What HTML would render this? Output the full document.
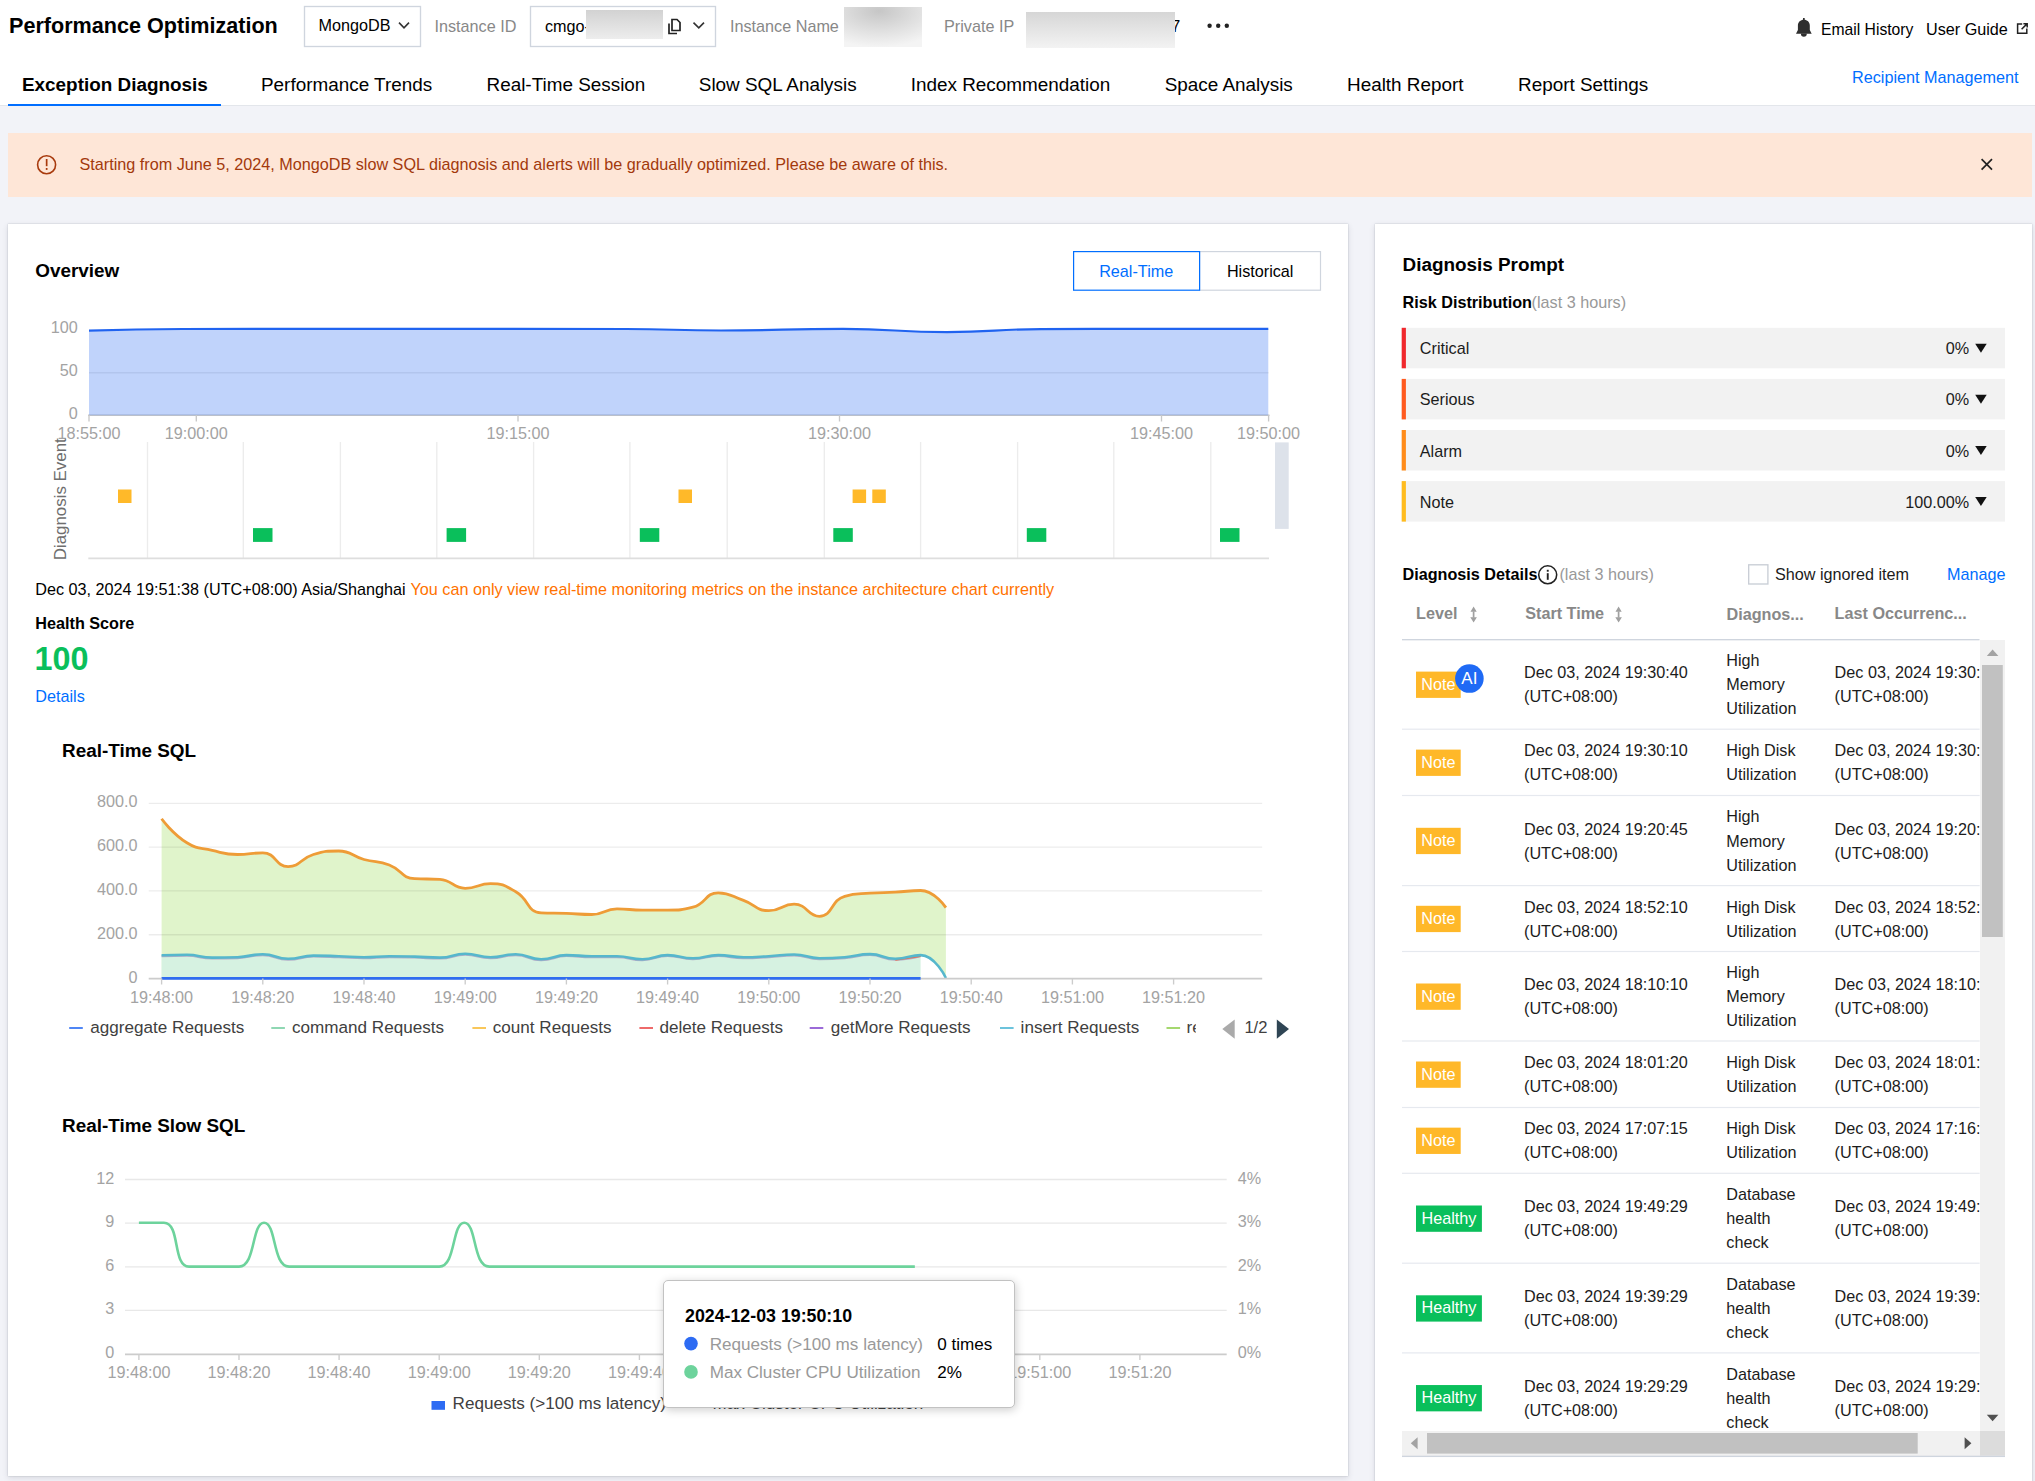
<!DOCTYPE html><html><head><meta charset="utf-8"><title>Performance Optimization</title><style>
*{margin:0;padding:0;box-sizing:border-box}
html,body{width:2035px;height:1481px;overflow:hidden;background:#f2f3f8;font-family:'Liberation Sans', Arial, sans-serif}
#hdr{position:absolute;left:0;top:0;width:2035px;height:106px;background:#fff;border-bottom:1px solid #e3e6eb}
#tabline{position:absolute;left:8px;top:103.6px;width:213px;height:2.6px;background:#006eff}
#alert{position:absolute;left:8px;top:133px;width:2024px;height:64px;background:#fee6d7}
.card{position:absolute;background:#fff;box-shadow:0 0 1.5px rgba(54,58,80,.28),0 2px 6px rgba(54,58,80,.14)}
#lc{left:8px;top:224px;width:1340px;height:1252px}
#rc{left:1375px;top:224px;width:657px;height:1300px}
#ov{position:absolute;left:0;top:0}
#tip{position:absolute;left:663px;top:1280px;width:352px;height:128px;background:#fff;border:1px solid #c2c2c2;border-radius:5px;box-shadow:1px 2px 10px rgba(0,0,0,.2)}
#tip svg{position:absolute;left:-664px;top:-1281px}
text{font-family:'Liberation Sans', Arial, sans-serif}
</style></head><body><div id="hdr"></div><div id="tabline"></div><div id="alert"></div><div class="card" id="lc"></div><div class="card" id="rc"></div><svg id="ov" width="2035" height="1481" viewBox="0 0 2035 1481"><text x="9" y="32.7" font-size="21.6" fill="#000" font-weight="bold">Performance Optimization</text><rect x="304.5" y="6.5" width="116" height="40" fill="#fff" stroke="#cfd5de" stroke-width="1.35"/><text x="318.5" y="31.3" font-size="16.2" fill="#000">MongoDB</text><path d="M399 22.6 L404 27.8 L409 22.6" fill="none" stroke="#333" stroke-width="1.6"/><text x="434.5" y="31.5" font-size="16.2" fill="#888">Instance ID</text><rect x="530.5" y="6.5" width="185" height="40" fill="#fff" stroke="#cfd5de" stroke-width="1.35"/><text x="545" y="31.5" font-size="16.2" fill="#000">cmgo-</text><defs><linearGradient id="gb1" x1="0" y1="0" x2="0" y2="1"><stop offset="0" stop-color="#d2d2d2"/><stop offset="1" stop-color="#ededed"/></linearGradient><radialGradient id="gb2" cx="0.45" cy="0.1" r="0.9"><stop offset="0" stop-color="#c6c6c6"/><stop offset="1" stop-color="#f4f4f4"/></radialGradient><linearGradient id="gb3" x1="0" y1="0" x2="0" y2="1"><stop offset="0" stop-color="#d6d6d6"/><stop offset="1" stop-color="#f3f3f3"/></linearGradient></defs><rect x="586" y="10" width="77" height="29" fill="url(#gb1)"/><path d="M672 19.5 h5 l3 3 v8 h-8 z" fill="none" stroke="#222" stroke-width="1.7"/><path d="M669 23.5 v10 h8" fill="none" stroke="#222" stroke-width="1.7"/><path d="M693.5 22.6 L698.8 27.9 L704 22.6" fill="none" stroke="#333" stroke-width="1.6"/><text x="730" y="31.5" font-size="16.2" fill="#888">Instance Name</text><rect x="844" y="7" width="78" height="40" fill="url(#gb2)"/><text x="944" y="31.5" font-size="16.2" fill="#888">Private IP</text><text x="1171.3" y="31.5" font-size="16.2" fill="#000">7</text><rect x="1026" y="12" width="149" height="36" fill="url(#gb3)"/><circle cx="1209.6" cy="25.8" r="2.2" fill="#222"/><circle cx="1218.2" cy="25.8" r="2.2" fill="#222"/><circle cx="1226.8" cy="25.8" r="2.2" fill="#222"/><rect x="1803" y="18" width="1.7" height="2.6" fill="#2f2f2f"/><path d="M1797.9 30 V25.6 C1797.9 22.1 1800.5 19.8 1803.85 19.8 C1807.2 19.8 1809.8 22.1 1809.8 25.6 V30 L1811.7 33.7 H1796 Z" fill="#2f2f2f"/><path d="M1800.9 33.5 A2.95 3.2 0 0 0 1806.8 33.5 Z" fill="#2f2f2f"/><text x="1821" y="34.5" font-size="15.7" fill="#000">Email History</text><text x="1926" y="34.5" font-size="16.2" fill="#000">User Guide</text><path d="M2022.2 24 H2017.6 V33.2 H2026.8 V28.6" fill="none" stroke="#222" stroke-width="1.5"/><path d="M2021.6 29.2 L2027.2 23.6 M2023.4 23.8 H2027.2 V27.6" fill="none" stroke="#222" stroke-width="1.5"/><text x="22" y="91" font-size="18.9" fill="#000" font-weight="bold">Exception Diagnosis</text><text x="261" y="91" font-size="18.9" fill="#000">Performance Trends</text><text x="486.5" y="91" font-size="18.9" fill="#000">Real-Time Session</text><text x="698.8" y="91" font-size="18.9" fill="#000">Slow SQL Analysis</text><text x="910.7" y="91" font-size="18.9" fill="#000">Index Recommendation</text><text x="1164.7" y="91" font-size="18.9" fill="#000">Space Analysis</text><text x="1347" y="91" font-size="18.9" fill="#000">Health Report</text><text x="1518" y="91" font-size="18.9" fill="#000">Report Settings</text><text x="1852" y="83" font-size="16.2" fill="#006eff">Recipient Management</text><circle cx="46.6" cy="164.8" r="9" fill="none" stroke="#a83a0d" stroke-width="1.6"/><rect x="45.8" y="159" width="1.7" height="7.2" fill="#a83a0d"/><rect x="45.8" y="168" width="1.7" height="1.9" fill="#a83a0d"/><text x="79.5" y="170.1" font-size="16.2" fill="#a3390c">Starting from June 5, 2024, MongoDB slow SQL diagnosis and alerts will be gradually optimized. Please be aware of this.</text><path d="M1981.6 159.2 L1992 169.6 M1992 159.2 L1981.6 169.6" stroke="#222" stroke-width="1.7"/><text x="35.3" y="276.9" font-size="18.9" fill="#000" font-weight="bold">Overview</text><rect x="1199.6" y="251.6" width="120.9" height="38.6" fill="#fff" stroke="#cfd5de" stroke-width="1.2"/><rect x="1073.6" y="251.6" width="126" height="38.6" fill="#fff" stroke="#006eff" stroke-width="1.2"/><text x="1136.2" y="276.9" font-size="16.2" fill="#006eff" text-anchor="middle">Real-Time</text><text x="1260.2" y="276.9" font-size="16.2" fill="#000" text-anchor="middle">Historical</text><line x1="89" y1="372.7" x2="1268.5" y2="372.7" stroke="#ececec" stroke-width="1.35"/><line x1="88" y1="415.2" x2="1269.5" y2="415.2" stroke="#c8c8c8" stroke-width="1.6"/><path d="M89.00,330.60 C89.00,330.60 136.00,329.04 183.00,329.00 C291.50,328.90 291.50,328.90 400.00,328.90 C513.00,328.90 513.00,328.90 626.00,329.00 C673.50,329.04 673.50,330.50 721.00,330.50 C782.00,330.50 782.01,328.90 843.00,328.90 C895.01,328.90 895.00,332.10 947.00,332.10 C994.00,332.10 993.99,329.27 1041.00,329.10 C1095.49,328.90 1095.50,328.90 1150.00,328.90 C1209.15,328.90 1268.30,328.90 1268.30,328.90 L1268.30,415.2 L89.00,415.2 Z" fill="rgba(34,102,240,0.285)" stroke="none"/><path d="M89.00,330.60 C89.00,330.60 136.00,329.04 183.00,329.00 C291.50,328.90 291.50,328.90 400.00,328.90 C513.00,328.90 513.00,328.90 626.00,329.00 C673.50,329.04 673.50,330.50 721.00,330.50 C782.00,330.50 782.01,328.90 843.00,328.90 C895.01,328.90 895.00,332.10 947.00,332.10 C994.00,332.10 993.99,329.27 1041.00,329.10 C1095.49,328.90 1095.50,328.90 1150.00,328.90 C1209.15,328.90 1268.30,328.90 1268.30,328.90" fill="none" stroke="#2063f0" stroke-width="2.2"/><line x1="89" y1="415" x2="89" y2="421.5" stroke="#c8c8c8" stroke-width="1.35"/><line x1="196.3" y1="415" x2="196.3" y2="421.5" stroke="#c8c8c8" stroke-width="1.35"/><line x1="518" y1="415" x2="518" y2="421.5" stroke="#c8c8c8" stroke-width="1.35"/><line x1="839.5" y1="415" x2="839.5" y2="421.5" stroke="#c8c8c8" stroke-width="1.35"/><line x1="1161.5" y1="415" x2="1161.5" y2="421.5" stroke="#c8c8c8" stroke-width="1.35"/><line x1="1268.6" y1="415" x2="1268.6" y2="421.5" stroke="#c8c8c8" stroke-width="1.35"/><text x="77.8" y="332.7" font-size="16.2" fill="#a3a3a3" text-anchor="end">100</text><text x="77.8" y="375.9" font-size="16.2" fill="#a3a3a3" text-anchor="end">50</text><text x="77.8" y="419.4" font-size="16.2" fill="#a3a3a3" text-anchor="end">0</text><text x="89" y="438.7" font-size="16.2" fill="#a3a3a3" text-anchor="middle">18:55:00</text><text x="196.3" y="438.7" font-size="16.2" fill="#a3a3a3" text-anchor="middle">19:00:00</text><text x="518" y="438.7" font-size="16.2" fill="#a3a3a3" text-anchor="middle">19:15:00</text><text x="839.5" y="438.7" font-size="16.2" fill="#a3a3a3" text-anchor="middle">19:30:00</text><text x="1161.5" y="438.7" font-size="16.2" fill="#a3a3a3" text-anchor="middle">19:45:00</text><text x="1268.6" y="438.7" font-size="16.2" fill="#a3a3a3" text-anchor="middle">19:50:00</text><line x1="147.5" y1="442" x2="147.5" y2="558" stroke="#ececec" stroke-width="1.35"/><line x1="243.3" y1="442" x2="243.3" y2="558" stroke="#ececec" stroke-width="1.35"/><line x1="340.4" y1="442" x2="340.4" y2="558" stroke="#ececec" stroke-width="1.35"/><line x1="436.8" y1="442" x2="436.8" y2="558" stroke="#ececec" stroke-width="1.35"/><line x1="533.6" y1="442" x2="533.6" y2="558" stroke="#ececec" stroke-width="1.35"/><line x1="629.9" y1="442" x2="629.9" y2="558" stroke="#ececec" stroke-width="1.35"/><line x1="727.2" y1="442" x2="727.2" y2="558" stroke="#ececec" stroke-width="1.35"/><line x1="824.3" y1="442" x2="824.3" y2="558" stroke="#ececec" stroke-width="1.35"/><line x1="920.6" y1="442" x2="920.6" y2="558" stroke="#ececec" stroke-width="1.35"/><line x1="1017.6" y1="442" x2="1017.6" y2="558" stroke="#ececec" stroke-width="1.35"/><line x1="1113.8" y1="442" x2="1113.8" y2="558" stroke="#ececec" stroke-width="1.35"/><line x1="1210.8" y1="442" x2="1210.8" y2="558" stroke="#ececec" stroke-width="1.35"/><line x1="88.3" y1="558.3" x2="1269" y2="558.3" stroke="#dedede" stroke-width="1.8"/><rect x="118" y="489.5" width="13.5" height="13.5" fill="#ffb929"/><rect x="678.5" y="489.5" width="13.5" height="13.5" fill="#ffb929"/><rect x="852.6" y="489.5" width="13.5" height="13.5" fill="#ffb929"/><rect x="872.3" y="489.5" width="13.5" height="13.5" fill="#ffb929"/><rect x="253" y="528.1" width="19.5" height="13.8" fill="#0abf5b"/><rect x="446.6" y="528.1" width="19.5" height="13.8" fill="#0abf5b"/><rect x="639.8" y="528.1" width="19.5" height="13.8" fill="#0abf5b"/><rect x="833.3" y="528.1" width="19.5" height="13.8" fill="#0abf5b"/><rect x="1026.8" y="528.1" width="19.5" height="13.8" fill="#0abf5b"/><rect x="1220" y="528.1" width="19.5" height="13.8" fill="#0abf5b"/><rect x="1275" y="442.4" width="13.7" height="86.5" fill="#dde2ea"/><text transform="translate(65.6,560.3) rotate(-90)" font-size="16.9" fill="#6e6e6e">Diagnosis Event</text><text x="35.3" y="595.4" font-size="16.2" fill="#000">Dec 03, 2024 19:51:38 (UTC+08:00) Asia/Shanghai</text><text x="410.5" y="595.4" font-size="16.2" fill="#ff7200">You can only view real-time monitoring metrics on the instance architecture chart currently</text><text x="35.3" y="628.7" font-size="16.2" fill="#000" font-weight="bold">Health Score</text><text x="34.6" y="670" font-size="32.4" fill="#0abf5b" font-weight="bold">100</text><text x="35.3" y="702.3" font-size="16.2" fill="#006eff">Details</text><text x="62" y="756.7" font-size="18.9" fill="#000" font-weight="bold">Real-Time SQL</text><text x="137.4" y="807.3" font-size="16.2" fill="#a3a3a3" text-anchor="end">800.0</text><text x="137.4" y="851.1" font-size="16.2" fill="#a3a3a3" text-anchor="end">600.0</text><text x="137.4" y="894.9" font-size="16.2" fill="#a3a3a3" text-anchor="end">400.0</text><text x="137.4" y="938.7" font-size="16.2" fill="#a3a3a3" text-anchor="end">200.0</text><text x="137.4" y="982.5" font-size="16.2" fill="#a3a3a3" text-anchor="end">0</text><path d="M161.60,818.80 C161.60,818.80 172.50,833.81 186.90,842.80 C197.80,849.61 199.36,847.43 212.20,850.40 C224.66,853.28 224.78,854.50 237.50,854.50 C250.08,854.50 250.96,852.80 262.80,852.80 C276.26,852.80 275.28,866.60 288.10,866.60 C300.58,866.60 300.16,858.34 313.40,854.50 C325.46,851.00 326.33,851.00 338.70,851.00 C351.63,851.00 351.16,855.95 364.00,859.50 C376.46,862.95 377.32,860.45 389.30,865.00 C402.62,870.05 401.14,878.02 414.60,878.70 C426.44,879.30 427.62,878.70 439.90,879.30 C452.92,879.94 452.28,888.30 465.20,888.30 C477.58,888.30 478.06,883.70 490.50,883.70 C503.36,883.70 504.51,885.28 515.80,891.80 C529.81,899.88 526.79,912.25 541.10,912.90 C552.09,913.40 553.75,913.00 566.40,913.40 C579.05,913.80 579.20,914.50 591.70,914.50 C604.50,914.50 604.21,908.90 617.00,908.90 C629.51,908.90 629.64,910.10 642.30,910.10 C654.94,910.10 654.99,910.10 667.60,910.10 C680.29,910.10 681.09,910.10 692.90,907.20 C706.39,903.88 704.94,892.80 718.20,892.80 C730.24,892.80 731.06,896.00 743.50,900.40 C756.36,904.95 755.87,910.70 768.80,910.70 C781.17,910.70 781.90,904.10 794.10,904.10 C807.20,904.10 807.62,916.30 819.40,916.30 C832.92,916.30 830.57,900.22 844.70,896.30 C855.87,893.20 857.31,894.21 870.00,893.20 C882.61,892.20 882.66,892.87 895.30,892.20 C907.96,891.52 909.12,890.50 920.60,890.50 C934.42,890.50 945.90,907.60 945.90,907.60 L945.90,978.3 L161.60,978.3 Z" fill="#e0f4cb" stroke="none"/><path d="M161.60,955.20 C161.60,955.20 174.29,954.80 186.90,954.80 C199.59,954.80 199.51,957.60 212.20,957.60 C224.81,957.60 224.89,957.60 237.50,957.20 C250.19,956.80 250.21,954.20 262.80,954.20 C275.51,954.20 275.40,958.80 288.10,958.80 C300.70,958.80 300.70,955.60 313.40,955.60 C326.00,955.60 326.05,955.80 338.70,956.20 C351.35,956.60 351.35,957.20 364.00,957.20 C376.65,957.20 376.65,956.20 389.30,956.20 C401.95,956.20 401.95,956.25 414.60,956.60 C427.25,956.95 427.32,957.60 439.90,957.60 C452.62,957.60 452.54,953.80 465.20,953.80 C477.84,953.80 477.84,957.20 490.50,957.20 C503.14,957.20 503.23,954.20 515.80,954.20 C528.53,954.20 528.41,959.30 541.10,959.30 C553.71,959.30 553.67,955.10 566.40,955.10 C578.97,955.10 579.04,956.20 591.70,956.20 C604.34,956.20 604.39,956.20 617.00,956.20 C629.69,956.20 629.69,959.20 642.30,959.20 C654.99,959.20 654.92,955.10 667.60,955.10 C680.22,955.10 680.25,958.20 692.90,958.20 C705.55,958.20 705.52,955.10 718.20,955.10 C730.82,955.10 730.83,957.20 743.50,957.20 C756.13,957.20 756.16,956.87 768.80,956.20 C781.46,955.52 781.50,954.50 794.10,954.50 C806.80,954.50 806.69,958.20 819.40,958.20 C831.99,958.20 832.09,958.20 844.70,957.20 C857.39,956.19 857.41,954.10 870.00,954.10 C882.71,954.10 882.61,958.80 895.30,958.80 C907.91,958.80 909.76,955.10 920.60,955.10 C935.06,955.10 945.90,978.00 945.90,978.00 L945.90,978.3 L161.60,978.3 Z" fill="#ffffff" stroke="none"/><path d="M161.60,955.20 C161.60,955.20 174.29,954.80 186.90,954.80 C199.59,954.80 199.51,957.60 212.20,957.60 C224.81,957.60 224.89,957.60 237.50,957.20 C250.19,956.80 250.21,954.20 262.80,954.20 C275.51,954.20 275.40,958.80 288.10,958.80 C300.70,958.80 300.70,955.60 313.40,955.60 C326.00,955.60 326.05,955.80 338.70,956.20 C351.35,956.60 351.35,957.20 364.00,957.20 C376.65,957.20 376.65,956.20 389.30,956.20 C401.95,956.20 401.95,956.25 414.60,956.60 C427.25,956.95 427.32,957.60 439.90,957.60 C452.62,957.60 452.54,953.80 465.20,953.80 C477.84,953.80 477.84,957.20 490.50,957.20 C503.14,957.20 503.23,954.20 515.80,954.20 C528.53,954.20 528.41,959.30 541.10,959.30 C553.71,959.30 553.67,955.10 566.40,955.10 C578.97,955.10 579.04,956.20 591.70,956.20 C604.34,956.20 604.39,956.20 617.00,956.20 C629.69,956.20 629.69,959.20 642.30,959.20 C654.99,959.20 654.92,955.10 667.60,955.10 C680.22,955.10 680.25,958.20 692.90,958.20 C705.55,958.20 705.52,955.10 718.20,955.10 C730.82,955.10 730.83,957.20 743.50,957.20 C756.13,957.20 756.16,956.87 768.80,956.20 C781.46,955.52 781.50,954.50 794.10,954.50 C806.80,954.50 806.69,958.20 819.40,958.20 C831.99,958.20 832.09,958.20 844.70,957.20 C857.39,956.19 857.41,954.10 870.00,954.10 C882.71,954.10 882.61,958.80 895.30,958.80 C907.91,958.80 920.60,955.10 920.60,955.10 L920.60,978.3 L161.60,978.3 Z" fill="#d6f2e1" stroke="none"/><line x1="148.7" y1="803.3" x2="1262.2" y2="803.3" stroke="rgba(0,0,0,0.075)" stroke-width="1.35"/><line x1="148.7" y1="847.1" x2="1262.2" y2="847.1" stroke="rgba(0,0,0,0.075)" stroke-width="1.35"/><line x1="148.7" y1="890.9" x2="1262.2" y2="890.9" stroke="rgba(0,0,0,0.075)" stroke-width="1.35"/><line x1="148.7" y1="934.7" x2="1262.2" y2="934.7" stroke="rgba(0,0,0,0.075)" stroke-width="1.35"/><path d="M161.60,956.10 C161.60,956.10 174.29,955.70 186.90,955.70 C199.59,955.70 199.51,958.50 212.20,958.50 C224.81,958.50 224.89,958.50 237.50,958.10 C250.19,957.70 250.21,955.10 262.80,955.10 C275.51,955.10 275.40,959.70 288.10,959.70 C300.70,959.70 300.70,956.50 313.40,956.50 C326.00,956.50 326.05,956.70 338.70,957.10 C351.35,957.50 351.35,958.10 364.00,958.10 C376.65,958.10 376.65,957.10 389.30,957.10 C401.95,957.10 401.95,957.15 414.60,957.50 C427.25,957.85 427.32,958.50 439.90,958.50 C452.62,958.50 452.54,954.70 465.20,954.70 C477.84,954.70 477.84,958.10 490.50,958.10 C503.14,958.10 503.23,955.10 515.80,955.10 C528.53,955.10 528.41,960.20 541.10,960.20 C553.71,960.20 553.67,956.00 566.40,956.00 C578.97,956.00 579.04,957.10 591.70,957.10 C604.34,957.10 604.39,957.10 617.00,957.10 C629.69,957.10 629.69,960.10 642.30,960.10 C654.99,960.10 654.92,956.00 667.60,956.00 C680.22,956.00 680.25,959.10 692.90,959.10 C705.55,959.10 705.52,956.00 718.20,956.00 C730.82,956.00 730.83,958.10 743.50,958.10 C756.13,958.10 756.16,957.77 768.80,957.10 C781.46,956.42 781.50,955.40 794.10,955.40 C806.80,955.40 806.69,959.10 819.40,959.10 C831.99,959.10 832.09,959.10 844.70,958.10 C857.39,957.09 857.41,955.00 870.00,955.00 C882.71,955.00 882.61,959.70 895.30,959.70 C907.91,959.70 920.60,956.00 920.60,956.00" fill="none" stroke="#9a7fb8" stroke-width="2.2" stroke-linejoin="round" opacity="0.6"/><path d="M895.30,959.80 C895.30,959.80 920.60,956.10 920.60,956.10" fill="none" stroke="#ee6a4a" stroke-width="2" stroke-linejoin="round"/><path d="M161.60,955.20 C161.60,955.20 174.29,954.80 186.90,954.80 C199.59,954.80 199.51,957.60 212.20,957.60 C224.81,957.60 224.89,957.60 237.50,957.20 C250.19,956.80 250.21,954.20 262.80,954.20 C275.51,954.20 275.40,958.80 288.10,958.80 C300.70,958.80 300.70,955.60 313.40,955.60 C326.00,955.60 326.05,955.80 338.70,956.20 C351.35,956.60 351.35,957.20 364.00,957.20 C376.65,957.20 376.65,956.20 389.30,956.20 C401.95,956.20 401.95,956.25 414.60,956.60 C427.25,956.95 427.32,957.60 439.90,957.60 C452.62,957.60 452.54,953.80 465.20,953.80 C477.84,953.80 477.84,957.20 490.50,957.20 C503.14,957.20 503.23,954.20 515.80,954.20 C528.53,954.20 528.41,959.30 541.10,959.30 C553.71,959.30 553.67,955.10 566.40,955.10 C578.97,955.10 579.04,956.20 591.70,956.20 C604.34,956.20 604.39,956.20 617.00,956.20 C629.69,956.20 629.69,959.20 642.30,959.20 C654.99,959.20 654.92,955.10 667.60,955.10 C680.22,955.10 680.25,958.20 692.90,958.20 C705.55,958.20 705.52,955.10 718.20,955.10 C730.82,955.10 730.83,957.20 743.50,957.20 C756.13,957.20 756.16,956.87 768.80,956.20 C781.46,955.52 781.50,954.50 794.10,954.50 C806.80,954.50 806.69,958.20 819.40,958.20 C831.99,958.20 832.09,958.20 844.70,957.20 C857.39,956.19 857.41,954.10 870.00,954.10 C882.71,954.10 882.61,958.80 895.30,958.80 C907.91,958.80 909.76,955.10 920.60,955.10 C935.06,955.10 945.90,978.00 945.90,978.00" fill="none" stroke="#56b7cc" stroke-width="2.6" stroke-linejoin="round"/><path d="M161.60,818.80 C161.60,818.80 172.50,833.81 186.90,842.80 C197.80,849.61 199.36,847.43 212.20,850.40 C224.66,853.28 224.78,854.50 237.50,854.50 C250.08,854.50 250.96,852.80 262.80,852.80 C276.26,852.80 275.28,866.60 288.10,866.60 C300.58,866.60 300.16,858.34 313.40,854.50 C325.46,851.00 326.33,851.00 338.70,851.00 C351.63,851.00 351.16,855.95 364.00,859.50 C376.46,862.95 377.32,860.45 389.30,865.00 C402.62,870.05 401.14,878.02 414.60,878.70 C426.44,879.30 427.62,878.70 439.90,879.30 C452.92,879.94 452.28,888.30 465.20,888.30 C477.58,888.30 478.06,883.70 490.50,883.70 C503.36,883.70 504.51,885.28 515.80,891.80 C529.81,899.88 526.79,912.25 541.10,912.90 C552.09,913.40 553.75,913.00 566.40,913.40 C579.05,913.80 579.20,914.50 591.70,914.50 C604.50,914.50 604.21,908.90 617.00,908.90 C629.51,908.90 629.64,910.10 642.30,910.10 C654.94,910.10 654.99,910.10 667.60,910.10 C680.29,910.10 681.09,910.10 692.90,907.20 C706.39,903.88 704.94,892.80 718.20,892.80 C730.24,892.80 731.06,896.00 743.50,900.40 C756.36,904.95 755.87,910.70 768.80,910.70 C781.17,910.70 781.90,904.10 794.10,904.10 C807.20,904.10 807.62,916.30 819.40,916.30 C832.92,916.30 830.57,900.22 844.70,896.30 C855.87,893.20 857.31,894.21 870.00,893.20 C882.61,892.20 882.66,892.87 895.30,892.20 C907.96,891.52 909.12,890.50 920.60,890.50 C934.42,890.50 945.90,907.60 945.90,907.60" fill="none" stroke="#ee9c37" stroke-width="2.8" stroke-linejoin="round"/><line x1="148.7" y1="978.6" x2="1262.2" y2="978.6" stroke="#cccccc" stroke-width="1.8"/><line x1="161.6" y1="978.3" x2="920.6" y2="978.3" stroke="#2f6df0" stroke-width="2.8"/><line x1="161.6" y1="978.5" x2="161.6" y2="984.5" stroke="#cccccc" stroke-width="1.35"/><text x="161.6" y="1002.6" font-size="16.2" fill="#a3a3a3" text-anchor="middle">19:48:00</text><line x1="262.8" y1="978.5" x2="262.8" y2="984.5" stroke="#cccccc" stroke-width="1.35"/><text x="262.8" y="1002.6" font-size="16.2" fill="#a3a3a3" text-anchor="middle">19:48:20</text><line x1="364.0" y1="978.5" x2="364.0" y2="984.5" stroke="#cccccc" stroke-width="1.35"/><text x="364" y="1002.6" font-size="16.2" fill="#a3a3a3" text-anchor="middle">19:48:40</text><line x1="465.2" y1="978.5" x2="465.2" y2="984.5" stroke="#cccccc" stroke-width="1.35"/><text x="465.2" y="1002.6" font-size="16.2" fill="#a3a3a3" text-anchor="middle">19:49:00</text><line x1="566.4" y1="978.5" x2="566.4" y2="984.5" stroke="#cccccc" stroke-width="1.35"/><text x="566.4" y="1002.6" font-size="16.2" fill="#a3a3a3" text-anchor="middle">19:49:20</text><line x1="667.6" y1="978.5" x2="667.6" y2="984.5" stroke="#cccccc" stroke-width="1.35"/><text x="667.6" y="1002.6" font-size="16.2" fill="#a3a3a3" text-anchor="middle">19:49:40</text><line x1="768.8" y1="978.5" x2="768.8" y2="984.5" stroke="#cccccc" stroke-width="1.35"/><text x="768.8" y="1002.6" font-size="16.2" fill="#a3a3a3" text-anchor="middle">19:50:00</text><line x1="870.0" y1="978.5" x2="870.0" y2="984.5" stroke="#cccccc" stroke-width="1.35"/><text x="870" y="1002.6" font-size="16.2" fill="#a3a3a3" text-anchor="middle">19:50:20</text><line x1="971.2" y1="978.5" x2="971.2" y2="984.5" stroke="#cccccc" stroke-width="1.35"/><text x="971.2" y="1002.6" font-size="16.2" fill="#a3a3a3" text-anchor="middle">19:50:40</text><line x1="1072.4" y1="978.5" x2="1072.4" y2="984.5" stroke="#cccccc" stroke-width="1.35"/><text x="1072.4" y="1002.6" font-size="16.2" fill="#a3a3a3" text-anchor="middle">19:51:00</text><line x1="1173.6" y1="978.5" x2="1173.6" y2="984.5" stroke="#cccccc" stroke-width="1.35"/><text x="1173.6" y="1002.6" font-size="16.2" fill="#a3a3a3" text-anchor="middle">19:51:20</text><defs><clipPath id="lgc"><rect x="0" y="1000" width="1195.8" height="60"/></clipPath></defs><g clip-path="url(#lgc)"><rect x="69.2" y="1027" width="13.6" height="2" fill="#4f86f5"/><text x="90.3" y="1033.4" font-size="17.1" fill="#404040">aggregate Requests</text><rect x="271.3" y="1027" width="13.6" height="2" fill="#8fd7b3"/><text x="292" y="1033.4" font-size="17.1" fill="#404040">command Requests</text><rect x="472.4" y="1027" width="13.6" height="2" fill="#f9c75a"/><text x="492.8" y="1033.4" font-size="17.1" fill="#404040">count Requests</text><rect x="639.4" y="1027" width="13.6" height="2" fill="#ee6a6a"/><text x="659.5" y="1033.4" font-size="17.1" fill="#404040">delete Requests</text><rect x="809.7" y="1027" width="13.6" height="2" fill="#9b6ad8"/><text x="830.8" y="1033.4" font-size="17.1" fill="#404040">getMore Requests</text><rect x="1000" y="1027" width="13.6" height="2" fill="#6cc3dc"/><text x="1020.6" y="1033.4" font-size="17.1" fill="#404040">insert Requests</text><rect x="1166.5" y="1027" width="13.6" height="2" fill="#a5d86f"/><text x="1186.6" y="1033.4" font-size="17.1" fill="#404040">remove Requests</text></g><path d="M1234.7 1019.4 L1222.3 1029 L1234.7 1038.8 Z" fill="#aaaaaa"/><text x="1244.4" y="1033.4" font-size="16.6" fill="#404040">1/2</text><path d="M1276.8 1019.4 L1289 1029 L1276.8 1038.8 Z" fill="#2f4554"/><text x="62" y="1132.1" font-size="18.9" fill="#000" font-weight="bold">Real-Time Slow SQL</text><line x1="125" y1="1179.5" x2="1226.7" y2="1179.5" stroke="#e8e8e8" stroke-width="1.35"/><line x1="125" y1="1223.1" x2="1226.7" y2="1223.1" stroke="#e8e8e8" stroke-width="1.35"/><line x1="125" y1="1266.8" x2="1226.7" y2="1266.8" stroke="#e8e8e8" stroke-width="1.35"/><line x1="125" y1="1310.4" x2="1226.7" y2="1310.4" stroke="#e8e8e8" stroke-width="1.35"/><text x="114.2" y="1183.5" font-size="16.2" fill="#a3a3a3" text-anchor="end">12</text><text x="1237.8" y="1183.5" font-size="16.2" fill="#a3a3a3">4%</text><text x="114.2" y="1227.1" font-size="16.2" fill="#a3a3a3" text-anchor="end">9</text><text x="1237.8" y="1227.1" font-size="16.2" fill="#a3a3a3">3%</text><text x="114.2" y="1270.8" font-size="16.2" fill="#a3a3a3" text-anchor="end">6</text><text x="1237.8" y="1270.8" font-size="16.2" fill="#a3a3a3">2%</text><text x="114.2" y="1314.4" font-size="16.2" fill="#a3a3a3" text-anchor="end">3</text><text x="1237.8" y="1314.4" font-size="16.2" fill="#a3a3a3">1%</text><text x="114.2" y="1358" font-size="16.2" fill="#a3a3a3" text-anchor="end">0</text><text x="1237.8" y="1358" font-size="16.2" fill="#a3a3a3">0%</text><line x1="125" y1="1354.3" x2="1226.7" y2="1354.3" stroke="#cccccc" stroke-width="1.8"/><path d="M138.90,1222.80 C138.90,1222.80 155.63,1222.80 163.93,1222.80 C180.66,1222.80 172.23,1266.60 188.96,1266.60 C197.26,1266.60 201.48,1266.60 213.99,1266.60 C226.50,1266.60 230.72,1266.60 239.02,1266.60 C255.75,1266.60 251.54,1222.80 264.05,1222.80 C276.56,1222.80 272.35,1266.60 289.08,1266.60 C297.38,1266.60 301.60,1266.60 314.11,1266.60 C326.62,1266.60 326.62,1266.60 339.14,1266.60 C351.65,1266.60 351.65,1266.60 364.17,1266.60 C376.69,1266.60 376.69,1266.60 389.20,1266.60 C401.72,1266.60 401.72,1266.60 414.23,1266.60 C426.75,1266.60 430.96,1266.60 439.26,1266.60 C455.99,1266.60 451.77,1222.80 464.29,1222.80 C476.81,1222.80 472.59,1266.60 489.32,1266.60 C497.62,1266.60 501.84,1266.60 514.35,1266.60 C526.87,1266.60 526.87,1266.60 539.38,1266.60 C551.89,1266.60 551.89,1266.60 564.41,1266.60 C576.92,1266.60 576.92,1266.60 589.44,1266.60 C601.96,1266.60 601.96,1266.60 614.47,1266.60 C626.99,1266.60 626.99,1266.60 639.50,1266.60 C652.01,1266.60 652.01,1266.60 664.53,1266.60 C677.05,1266.60 677.05,1266.60 689.56,1266.60 C702.08,1266.60 702.08,1266.60 714.59,1266.60 C727.11,1266.60 727.11,1266.60 739.62,1266.60 C752.13,1266.60 752.13,1266.60 764.65,1266.60 C777.16,1266.60 777.16,1266.60 789.68,1266.60 C802.19,1266.60 802.19,1266.60 814.71,1266.60 C827.23,1266.60 827.23,1266.60 839.74,1266.60 C852.25,1266.60 852.25,1266.60 864.77,1266.60 C877.29,1266.60 877.29,1266.60 889.80,1266.60 C902.32,1266.60 914.83,1266.60 914.83,1266.60" fill="none" stroke="#6dd39c" stroke-width="2.6" stroke-linejoin="round"/><line x1="138.9" y1="1354" x2="138.9" y2="1360" stroke="#cccccc" stroke-width="1.35"/><text x="138.9" y="1378.3" font-size="16.2" fill="#a3a3a3" text-anchor="middle">19:48:00</text><line x1="239.0" y1="1354" x2="239.0" y2="1360" stroke="#cccccc" stroke-width="1.35"/><text x="239" y="1378.3" font-size="16.2" fill="#a3a3a3" text-anchor="middle">19:48:20</text><line x1="339.1" y1="1354" x2="339.1" y2="1360" stroke="#cccccc" stroke-width="1.35"/><text x="339.1" y="1378.3" font-size="16.2" fill="#a3a3a3" text-anchor="middle">19:48:40</text><line x1="439.2" y1="1354" x2="439.2" y2="1360" stroke="#cccccc" stroke-width="1.35"/><text x="439.2" y="1378.3" font-size="16.2" fill="#a3a3a3" text-anchor="middle">19:49:00</text><line x1="539.3" y1="1354" x2="539.3" y2="1360" stroke="#cccccc" stroke-width="1.35"/><text x="539.3" y="1378.3" font-size="16.2" fill="#a3a3a3" text-anchor="middle">19:49:20</text><line x1="639.4" y1="1354" x2="639.4" y2="1360" stroke="#cccccc" stroke-width="1.35"/><text x="639.4" y="1378.3" font-size="16.2" fill="#a3a3a3" text-anchor="middle">19:49:40</text><line x1="739.5" y1="1354" x2="739.5" y2="1360" stroke="#cccccc" stroke-width="1.35"/><text x="739.5" y="1378.3" font-size="16.2" fill="#a3a3a3" text-anchor="middle">19:50:00</text><line x1="839.6" y1="1354" x2="839.6" y2="1360" stroke="#cccccc" stroke-width="1.35"/><text x="839.6" y="1378.3" font-size="16.2" fill="#a3a3a3" text-anchor="middle">19:50:20</text><line x1="939.7" y1="1354" x2="939.7" y2="1360" stroke="#cccccc" stroke-width="1.35"/><text x="939.7" y="1378.3" font-size="16.2" fill="#a3a3a3" text-anchor="middle">19:50:40</text><line x1="1039.8" y1="1354" x2="1039.8" y2="1360" stroke="#cccccc" stroke-width="1.35"/><text x="1039.8" y="1378.3" font-size="16.2" fill="#a3a3a3" text-anchor="middle">19:51:00</text><line x1="1139.9" y1="1354" x2="1139.9" y2="1360" stroke="#cccccc" stroke-width="1.35"/><text x="1139.9" y="1378.3" font-size="16.2" fill="#a3a3a3" text-anchor="middle">19:51:20</text><rect x="431.5" y="1401" width="13.5" height="8.8" fill="#2d6bf3"/><text x="452.6" y="1409.2" font-size="17.1" fill="#404040">Requests (&gt;100 ms latency)</text><text x="712.5" y="1409.2" font-size="17.1" fill="#404040">Max Cluster CPU Utilization</text><text x="1402.5" y="270.7" font-size="18.9" fill="#000" font-weight="bold">Diagnosis Prompt</text><text x="1402.5" y="308.2" font-size="16.2" fill="#000" font-weight="bold">Risk Distribution</text><text x="1531.6" y="308.2" font-size="16.2" fill="#999">(last 3 hours)</text><rect x="1401.7" y="327.8" width="603.3" height="40.5" fill="#f2f2f2"/><rect x="1401.7" y="327.8" width="4.2" height="40.5" fill="#f0282d"/><text x="1419.8" y="354.35" font-size="16.2" fill="#1c1c1c">Critical</text><text x="1969.2" y="354.35" font-size="16.2" fill="#1c1c1c" text-anchor="end">0%</text><path d="M1975.2 343.75 L1986.7 343.75 L1980.95 352.75 Z" fill="#111"/><rect x="1401.7" y="378.9" width="603.3" height="40.5" fill="#f2f2f2"/><rect x="1401.7" y="378.9" width="4.2" height="40.5" fill="#ff5a1f"/><text x="1419.8" y="405.45" font-size="16.2" fill="#1c1c1c">Serious</text><text x="1969.2" y="405.45" font-size="16.2" fill="#1c1c1c" text-anchor="end">0%</text><path d="M1975.2 394.85 L1986.7 394.85 L1980.95 403.85 Z" fill="#111"/><rect x="1401.7" y="430" width="603.3" height="40.5" fill="#f2f2f2"/><rect x="1401.7" y="430" width="4.2" height="40.5" fill="#ff8c1a"/><text x="1419.8" y="456.55" font-size="16.2" fill="#1c1c1c">Alarm</text><text x="1969.2" y="456.55" font-size="16.2" fill="#1c1c1c" text-anchor="end">0%</text><path d="M1975.2 445.95 L1986.7 445.95 L1980.95 454.95 Z" fill="#111"/><rect x="1401.7" y="481.1" width="603.3" height="40.5" fill="#f2f2f2"/><rect x="1401.7" y="481.1" width="4.2" height="40.5" fill="#ffbc1f"/><text x="1419.8" y="507.65" font-size="16.2" fill="#1c1c1c">Note</text><text x="1969.2" y="507.65" font-size="16.2" fill="#1c1c1c" text-anchor="end">100.00%</text><path d="M1975.2 497.05 L1986.7 497.05 L1980.95 506.05 Z" fill="#111"/><text x="1402.5" y="579.8" font-size="16.2" fill="#000" font-weight="bold">Diagnosis Details</text><circle cx="1547.7" cy="574.8" r="9.0" fill="none" stroke="#222" stroke-width="1.55"/><rect x="1546.8" y="573.2" width="1.9" height="6.6" fill="#222"/><rect x="1546.8" y="569.8" width="1.9" height="1.9" fill="#222"/><text x="1559.4" y="579.8" font-size="16.2" fill="#999">(last 3 hours)</text><rect x="1748.7" y="564.8" width="19.2" height="19.2" fill="#fff" stroke="#c9ced6" stroke-width="1.35"/><text x="1775" y="579.8" font-size="16.2" fill="#1c1c1c">Show ignored item</text><text x="1947" y="579.8" font-size="16.2" fill="#006eff">Manage</text><text x="1416" y="619" font-size="16.2" fill="#888" font-weight="bold">Level</text><text x="1525.2" y="619" font-size="16.2" fill="#888" font-weight="bold">Start Time</text><text x="1726.5" y="619.7" font-size="16.2" fill="#888" font-weight="bold">Diagnos...</text><text x="1834.6" y="619" font-size="16.2" fill="#888" font-weight="bold">Last Occurrenc...</text><path d="M1470.50 611.8 L1473.60 606.6 L1476.70 611.8 Z M1470.30 617.3 L1473.60 622.6 L1476.90 617.3 Z" fill="#a0a0a0"/><rect x="1472.75" y="611.5" width="1.7" height="6.1" fill="#a0a0a0"/><path d="M1615.50 611.8 L1618.60 606.6 L1621.70 611.8 Z M1615.30 617.3 L1618.60 622.6 L1621.90 617.3 Z" fill="#a0a0a0"/><rect x="1617.75" y="611.5" width="1.7" height="6.1" fill="#a0a0a0"/><rect x="1402" y="639" width="577.5" height="1.35" fill="#cfd5de"/><defs><clipPath id="tbc"><rect x="1402" y="640" width="577.8" height="791"/></clipPath></defs><g clip-path="url(#tbc)"><rect x="1402" y="728.60" width="577.8" height="1.2" fill="#e6e9ef"/><rect x="1416" y="671.6" width="44.7" height="26.3" fill="#ffb829"/><text x="1438.35" y="689.65" font-size="16.2" fill="#fff" text-anchor="middle">Note</text><text x="1524" y="678.3" font-size="16.2" fill="#1c1c1c">Dec 03, 2024 19:30:40</text><text x="1524" y="702.4" font-size="16.2" fill="#1c1c1c">(UTC+08:00)</text><text x="1726.3" y="666.25" font-size="16.2" fill="#1c1c1c">High</text><text x="1726.3" y="690.35" font-size="16.2" fill="#1c1c1c">Memory</text><text x="1726.3" y="714.45" font-size="16.2" fill="#1c1c1c">Utilization</text><text x="1834.6" y="678.3" font-size="16.2" fill="#1c1c1c">Dec 03, 2024 19:30:00</text><text x="1834.6" y="702.4" font-size="16.2" fill="#1c1c1c">(UTC+08:00)</text><circle cx="1469.4" cy="678.55" r="14.3" fill="#1f6af5"/><text x="1469.4" y="684.35" font-size="17" fill="#fff" text-anchor="middle">AI</text><rect x="1402" y="794.90" width="577.8" height="1.2" fill="#e6e9ef"/><rect x="1416" y="749.6" width="44.7" height="26.3" fill="#ffb829"/><text x="1438.35" y="767.65" font-size="16.2" fill="#fff" text-anchor="middle">Note</text><text x="1524" y="756.3" font-size="16.2" fill="#1c1c1c">Dec 03, 2024 19:30:10</text><text x="1524" y="780.4" font-size="16.2" fill="#1c1c1c">(UTC+08:00)</text><text x="1726.3" y="756.3" font-size="16.2" fill="#1c1c1c">High Disk</text><text x="1726.3" y="780.4" font-size="16.2" fill="#1c1c1c">Utilization</text><text x="1834.6" y="756.3" font-size="16.2" fill="#1c1c1c">Dec 03, 2024 19:30:00</text><text x="1834.6" y="780.4" font-size="16.2" fill="#1c1c1c">(UTC+08:00)</text><rect x="1402" y="885.00" width="577.8" height="1.2" fill="#e6e9ef"/><rect x="1416" y="827.8" width="44.7" height="26.3" fill="#ffb829"/><text x="1438.35" y="845.85" font-size="16.2" fill="#fff" text-anchor="middle">Note</text><text x="1524" y="834.5" font-size="16.2" fill="#1c1c1c">Dec 03, 2024 19:20:45</text><text x="1524" y="858.6" font-size="16.2" fill="#1c1c1c">(UTC+08:00)</text><text x="1726.3" y="822.45" font-size="16.2" fill="#1c1c1c">High</text><text x="1726.3" y="846.55" font-size="16.2" fill="#1c1c1c">Memory</text><text x="1726.3" y="870.65" font-size="16.2" fill="#1c1c1c">Utilization</text><text x="1834.6" y="834.5" font-size="16.2" fill="#1c1c1c">Dec 03, 2024 19:20:00</text><text x="1834.6" y="858.6" font-size="16.2" fill="#1c1c1c">(UTC+08:00)</text><rect x="1402" y="950.90" width="577.8" height="1.2" fill="#e6e9ef"/><rect x="1416" y="905.8" width="44.7" height="26.3" fill="#ffb829"/><text x="1438.35" y="923.85" font-size="16.2" fill="#fff" text-anchor="middle">Note</text><text x="1524" y="912.5" font-size="16.2" fill="#1c1c1c">Dec 03, 2024 18:52:10</text><text x="1524" y="936.6" font-size="16.2" fill="#1c1c1c">(UTC+08:00)</text><text x="1726.3" y="912.5" font-size="16.2" fill="#1c1c1c">High Disk</text><text x="1726.3" y="936.6" font-size="16.2" fill="#1c1c1c">Utilization</text><text x="1834.6" y="912.5" font-size="16.2" fill="#1c1c1c">Dec 03, 2024 18:52:00</text><text x="1834.6" y="936.6" font-size="16.2" fill="#1c1c1c">(UTC+08:00)</text><rect x="1402" y="1040.40" width="577.8" height="1.2" fill="#e6e9ef"/><rect x="1416" y="983.5" width="44.7" height="26.3" fill="#ffb829"/><text x="1438.35" y="1001.55" font-size="16.2" fill="#fff" text-anchor="middle">Note</text><text x="1524" y="990.2" font-size="16.2" fill="#1c1c1c">Dec 03, 2024 18:10:10</text><text x="1524" y="1014.3" font-size="16.2" fill="#1c1c1c">(UTC+08:00)</text><text x="1726.3" y="978.15" font-size="16.2" fill="#1c1c1c">High</text><text x="1726.3" y="1002.25" font-size="16.2" fill="#1c1c1c">Memory</text><text x="1726.3" y="1026.35" font-size="16.2" fill="#1c1c1c">Utilization</text><text x="1834.6" y="990.2" font-size="16.2" fill="#1c1c1c">Dec 03, 2024 18:10:00</text><text x="1834.6" y="1014.3" font-size="16.2" fill="#1c1c1c">(UTC+08:00)</text><rect x="1402" y="1106.90" width="577.8" height="1.2" fill="#e6e9ef"/><rect x="1416" y="1061.5" width="44.7" height="26.3" fill="#ffb829"/><text x="1438.35" y="1079.55" font-size="16.2" fill="#fff" text-anchor="middle">Note</text><text x="1524" y="1068.2" font-size="16.2" fill="#1c1c1c">Dec 03, 2024 18:01:20</text><text x="1524" y="1092.3" font-size="16.2" fill="#1c1c1c">(UTC+08:00)</text><text x="1726.3" y="1068.2" font-size="16.2" fill="#1c1c1c">High Disk</text><text x="1726.3" y="1092.3" font-size="16.2" fill="#1c1c1c">Utilization</text><text x="1834.6" y="1068.2" font-size="16.2" fill="#1c1c1c">Dec 03, 2024 18:01:00</text><text x="1834.6" y="1092.3" font-size="16.2" fill="#1c1c1c">(UTC+08:00)</text><rect x="1402" y="1172.70" width="577.8" height="1.2" fill="#e6e9ef"/><rect x="1416" y="1127.65" width="44.7" height="26.3" fill="#ffb829"/><text x="1438.35" y="1145.7" font-size="16.2" fill="#fff" text-anchor="middle">Note</text><text x="1524" y="1134.35" font-size="16.2" fill="#1c1c1c">Dec 03, 2024 17:07:15</text><text x="1524" y="1158.45" font-size="16.2" fill="#1c1c1c">(UTC+08:00)</text><text x="1726.3" y="1134.35" font-size="16.2" fill="#1c1c1c">High Disk</text><text x="1726.3" y="1158.45" font-size="16.2" fill="#1c1c1c">Utilization</text><text x="1834.6" y="1134.35" font-size="16.2" fill="#1c1c1c">Dec 03, 2024 17:16:00</text><text x="1834.6" y="1158.45" font-size="16.2" fill="#1c1c1c">(UTC+08:00)</text><rect x="1402" y="1262.60" width="577.8" height="1.2" fill="#e6e9ef"/><rect x="1416" y="1205.5" width="65.9" height="26.3" fill="#0abf5b"/><text x="1448.95" y="1223.55" font-size="16.2" fill="#fff" text-anchor="middle">Healthy</text><text x="1524" y="1212.2" font-size="16.2" fill="#1c1c1c">Dec 03, 2024 19:49:29</text><text x="1524" y="1236.3" font-size="16.2" fill="#1c1c1c">(UTC+08:00)</text><text x="1726.3" y="1200.15" font-size="16.2" fill="#1c1c1c">Database</text><text x="1726.3" y="1224.25" font-size="16.2" fill="#1c1c1c">health</text><text x="1726.3" y="1248.35" font-size="16.2" fill="#1c1c1c">check</text><text x="1834.6" y="1212.2" font-size="16.2" fill="#1c1c1c">Dec 03, 2024 19:49:00</text><text x="1834.6" y="1236.3" font-size="16.2" fill="#1c1c1c">(UTC+08:00)</text><rect x="1402" y="1352.30" width="577.8" height="1.2" fill="#e6e9ef"/><rect x="1416" y="1295.3" width="65.9" height="26.3" fill="#0abf5b"/><text x="1448.95" y="1313.35" font-size="16.2" fill="#fff" text-anchor="middle">Healthy</text><text x="1524" y="1302" font-size="16.2" fill="#1c1c1c">Dec 03, 2024 19:39:29</text><text x="1524" y="1326.1" font-size="16.2" fill="#1c1c1c">(UTC+08:00)</text><text x="1726.3" y="1289.95" font-size="16.2" fill="#1c1c1c">Database</text><text x="1726.3" y="1314.05" font-size="16.2" fill="#1c1c1c">health</text><text x="1726.3" y="1338.15" font-size="16.2" fill="#1c1c1c">check</text><text x="1834.6" y="1302" font-size="16.2" fill="#1c1c1c">Dec 03, 2024 19:39:00</text><text x="1834.6" y="1326.1" font-size="16.2" fill="#1c1c1c">(UTC+08:00)</text><rect x="1416" y="1385.05" width="65.9" height="26.3" fill="#0abf5b"/><text x="1448.95" y="1403.1" font-size="16.2" fill="#fff" text-anchor="middle">Healthy</text><text x="1524" y="1391.75" font-size="16.2" fill="#1c1c1c">Dec 03, 2024 19:29:29</text><text x="1524" y="1415.85" font-size="16.2" fill="#1c1c1c">(UTC+08:00)</text><text x="1726.3" y="1379.7" font-size="16.2" fill="#1c1c1c">Database</text><text x="1726.3" y="1403.8" font-size="16.2" fill="#1c1c1c">health</text><text x="1726.3" y="1427.9" font-size="16.2" fill="#1c1c1c">check</text><text x="1834.6" y="1391.75" font-size="16.2" fill="#1c1c1c">Dec 03, 2024 19:29:00</text><text x="1834.6" y="1415.85" font-size="16.2" fill="#1c1c1c">(UTC+08:00)</text></g><rect x="1980" y="640" width="25" height="816" fill="#f1f1f1"/><rect x="1982" y="665" width="20.8" height="272" fill="#c1c1c1"/><path d="M1986.8 656.1 L1992.6 649.6 L1998.4 656.1 Z" fill="#a3a3a3"/><path d="M1986.8 1414.8 L1992.6 1421.3 L1998.4 1414.8 Z" fill="#505050"/><rect x="1402" y="1431" width="578" height="25" fill="#f1f1f1"/><rect x="1427" y="1433" width="490.7" height="20.6" fill="#c1c1c1"/><path d="M1417.6 1437.3 L1410.8 1443.3 L1417.6 1449.3 Z" fill="#a3a3a3"/><path d="M1964.6 1437.3 L1971.4 1443.3 L1964.6 1449.3 Z" fill="#505050"/><rect x="1980" y="1431" width="25" height="24.7" fill="#dcdcdc"/><rect x="1402" y="1455.7" width="603" height="1.35" fill="#cfd5de"/></svg><div id="tip"><svg width="2035" height="1481" viewBox="0 0 2035 1481"><text x="685" y="1321.6" font-size="17.8" font-weight="bold" fill="#000">2024-12-03 19:50:10</text><circle cx="691" cy="1343.6" r="6.8" fill="#2d6bf3"/><circle cx="691" cy="1371.9" r="6.8" fill="#6dd39c"/><text x="709.7" y="1349.6" font-size="17.1" fill="#999">Requests (&gt;100 ms latency)</text><text x="937.2" y="1349.6" font-size="17.1" fill="#000">0 times</text><text x="709.7" y="1377.9" font-size="17.1" fill="#999">Max Cluster CPU Utilization</text><text x="937.2" y="1377.9" font-size="17.1" fill="#000">2%</text></svg></div></body></html>
